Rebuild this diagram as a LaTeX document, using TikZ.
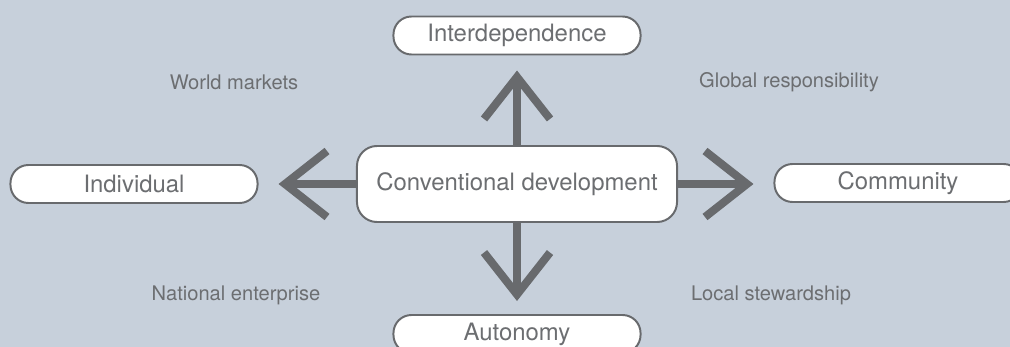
\documentclass[tikz,border=0pt]{standalone}
\usepackage{fontspec}
\setmainfont{TeX Gyre Heros}
\usepackage{tikz}
\usetikzlibrary{arrows.meta}

\definecolor{paneBlue}{RGB}{199,208,219}
\definecolor{darkGrey}{RGB}{104,106,109}
\definecolor{textGrey}{RGB}{108,110,113}

\begin{document}
\begin{tikzpicture}[x=0.025cm,y=-0.025cm,
  pill/.style={rectangle,rounded corners=0.45cm,draw=darkGrey,line width=1.4pt,fill=white,
    minimum width=6.175cm,minimum height=0.95cm,text=textGrey,font=\fontsize{17}{20}\selectfont},
  mainbox/.style={pill,rounded corners=0.5cm,minimum width=8cm,minimum height=1.9cm},
  corner/.style={text=textGrey,font=\fontsize{14.3}{17}\selectfont},
  bigarrow/.style={draw=darkGrey,line width=0.2cm,
    -{Straight Barb[length=1.05cm,width=1.65cm,line width=0.2cm]}}]
%Background
\fill [paneBlue] (0,0) rectangle (1010,347);
\useasboundingbox (0,0) rectangle (1010,347);
%Boxes
\node at (517,184) [mainbox] (Conventional) {Conventional development};
\node at (517,35.5) [pill] (Interdependence) {Interdependence};
\node at (134,184) [pill] (Individual) {Individual};
\node at (898,183) [pill] (Community) {Community};
\node at (517,334) [pill] (Autonomy) {Autonomy};
%Arrows
\draw [bigarrow,shorten >=0.375cm] (Conventional) -- (Interdependence);
\draw [bigarrow,shorten >=0.5cm] (Conventional) -- (Individual);
\draw [bigarrow,shorten >=0.5cm] (Conventional.east) -- (Conventional.east -| Community.west);
\draw [bigarrow,shorten >=0.325cm] (Conventional) -- (Autonomy);
%Quadrant labels
\node at (234,82) [corner] (WorldMarkets) {World markets};
\node at (789,82) [corner] (GlobalResp) {Global responsibility};
\node at (236,295) [corner] (National) {National enterprise};
\node at (771,295) [corner] (Local) {Local stewardship};
\end{tikzpicture}
\end{document}
